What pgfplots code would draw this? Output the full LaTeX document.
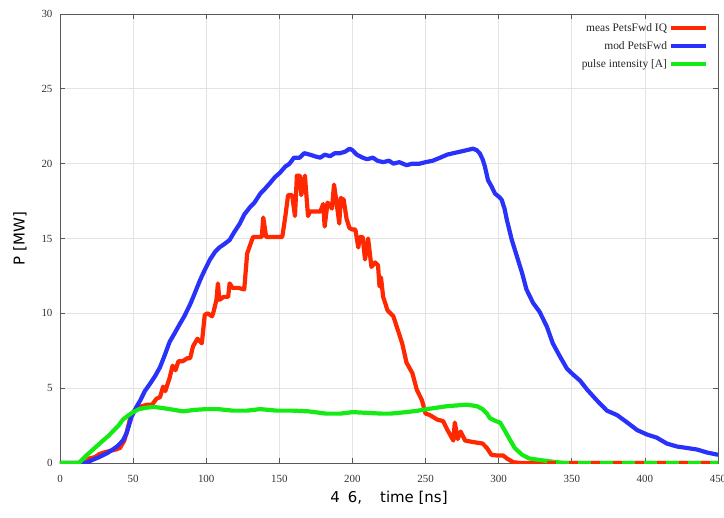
\documentclass[border=0pt]{standalone}
\usepackage{fontspec}
\setmainfont{Liberation Serif}
\newfontfamily\labelfont{DejaVu Sans}
\usepackage{pgfplots}
\pgfplotsset{compat=1.18}
\definecolor{cred}{RGB}{255,40,0}
\definecolor{cblue}{RGB}{40,50,250}
\definecolor{cgreen}{RGB}{20,235,20}
\begin{document}
\begin{tikzpicture}
\begin{axis}[
  scale only axis,
  width=658bp, height=449bp,
  xmin=0, xmax=450, ymin=0, ymax=30,
  xtick={0,50,...,450}, ytick={0,5,...,30},
  grid=major,
  grid style={gray!22, line width=0.7bp},
  axis line style={black!65, line width=0.9bp},
  tick style={black!65, line width=0.7bp},
  tick align=inside,
  major tick length=5bp,
  /pgf/number format/assume math mode=true,
  tick label style={font=\fontsize{11}{13}\selectfont, text=black!80},
  xticklabel style={yshift=-9bp},
  yticklabel style={xshift=-4bp},
  xlabel={4\hspace{8bp}6,\hspace{18bp}time [ns]},
  ylabel={P [MW]},
  label style={font=\labelfont\fontsize{15}{17}\selectfont},
  xlabel style={at={(axis description cs:0.5,-0.078)}, anchor=center},
  ylabel style={at={(axis description cs:-0.061,0.5)}, anchor=center},
  legend style={at={(axis description cs:0.99,0.988)}, anchor=north east,
    draw=none, fill=none, font=\fontsize{11.5}{13}\selectfont, text=black!85,
    row sep=4.5bp},
  legend cell align=right,
  legend plot pos=right,
  legend image code/.code={\draw[#1] (0bp,0bp) -- (35bp,0bp);},
  every axis plot/.append style={line width=4.2bp, line join=round},
]
\coordinate (O) at (rel axis cs:0,0);
\coordinate (T) at (rel axis cs:1,1);
\addplot[cred] coordinates {
(0,0)(10,0)(15,0)(18,0.1)(20,0.3)(24,0.4)(27,0.6)(30,0.7)(34,0.8)(38,0.9)(41,1.0)(44,1.5)(46,2.2)(48,3.0)(50,3.4)(53,3.7)(56,3.8)(60,3.9)(63,3.9)(66,4.3)(68.4,4.4)(70.5,5.1)(72,4.8)(75,5.7)(77,6.5)(79,6.2)(81,6.8)(84,6.8)(87,7.0)(89,7.0)(91,7.8)(94,8.3)(97,8.0)(99,9.9)(101,10.0)(104,9.8)(105,10.1)(107,10.9)(108,12.0)(109,10.9)(112,11.1)(115,11.1)(116,12.0)(118,11.7)(122,11.7)(126,11.6)(128,14.0)(132,15.1)(138,15.1)(139,16.4)(141,15.1)(152,15.1)(154,16.4)(156,17.9)(158.7,17.9)(160.7,16.5)(162,19.2)(164,19.2)(165,17.9)(167.5,19.2)(169.6,16.5)(171,16.8)(178,16.8)(180,17.3)(181,15.8)(183,17.4)(186,17.0)(187.4,18.6)(189,17.5)(191,16.0)(192,17.7)(194,17.6)(196,16.3)(198,15.7)(200,15.6)(202,15.6)(204,14.4)(205,15.1)(207,15.1)(208.6,13.6)(210.7,15.0)(213,13.1)(215.5,13.4)(217.5,13.2)(218.5,11.8)(219.5,12.4)(221,11.1)(224,10.2)(228,9.8)(231,8.9)(234,8.0)(237,6.7)(241,6.0)(244,4.9)(247.5,4.2)(250,3.3)(253,3.2)(258,2.9)(262,2.8)(265,2.2)(269,1.5)(270,2.7)(272,1.6)(274,2.1)(277,1.5)(282.5,1.4)(289,1.3)(292,1.0)(295,0.55)(299,0.5)(303,0.5)(305.7,0.3)(310,0.05)(315,0)(450,0)
};
\addlegendentry{meas PetsFwd IQ}
\addplot[cblue] coordinates {
(0,0)(18,0)(22,0.2)(27,0.4)(33,0.7)(39,1.1)(43,1.5)(45.6,2.0)(49,3.1)(52,3.7)(55,4.2)(58,4.8)(61.6,5.3)(65,5.8)(68.4,6.4)(72,7.3)(75,8.1)(78,8.6)(82,9.3)(85,9.8)(89,10.6)(92,11.3)(95.7,12.2)(99,12.9)(102.6,13.6)(106,14.1)(109,14.4)(112,14.6)(116,14.9)(119,15.4)(123,16.0)(126,16.6)(130,17.1)(133,17.4)(137,18.0)(140,18.3)(143.6,18.7)(147,19.1)(150.5,19.4)(154,19.8)(157,20.0)(160,20.4)(164,20.4)(167,20.7)(171,20.6)(174,20.5)(178,20.4)(181,20.6)(184.7,20.5)(188,20.7)(191.5,20.7)(195,20.8)(198,21.0)(200,20.9)(203,20.6)(207,20.4)(210,20.3)(214,20.4)(217,20.2)(221,20.1)(225,20.2)(228,20.0)(232,20.1)(237,19.9)(241,20.0)(246,20.0)(250,20.1)(255,20.2)(260,20.4)(264.7,20.6)(269,20.7)(273.6,20.8)(278,20.9)(282.5,21.0)(285,20.9)(287,20.7)(289,20.3)(290.6,19.8)(292.7,18.9)(295,18.5)(297.5,18.0)(300,17.8)(302,17.6)(304,17.0)(305.7,16.2)(309,14.9)(312.5,13.8)(316,12.7)(319,11.6)(323.5,10.7)(328,10.1)(333,9.1)(337,8.0)(342,7.1)(346.7,6.3)(351,5.9)(355.7,5.5)(360.5,4.9)(367,4.2)(374,3.5)(381,3.2)(388,2.7)(394.7,2.2)(401.5,1.9)(408,1.7)(415,1.3)(422,1.1)(429,1.0)(435.7,0.9)(442.5,0.7)(450,0.55)
};
\addlegendentry{mod PetsFwd}
\addplot[cgreen] coordinates {
(0,0)(12,0)(14,0.1)(18,0.5)(22.6,0.9)(26,1.2)(29.4,1.5)(33,1.8)(36,2.1)(40,2.5)(43,2.9)(47,3.2)(50,3.4)(54,3.6)(59.5,3.7)(64,3.75)(68,3.7)(75,3.6)(84,3.45)(92,3.55)(100,3.6)(108,3.6)(118,3.5)(128,3.5)(137,3.6)(148,3.5)(159,3.5)(170,3.45)(182,3.3)(192,3.3)(200,3.4)(210,3.35)(220,3.3)(226,3.3)(237,3.4)(245,3.5)(251,3.6)(258,3.7)(265,3.8)(272,3.85)(278,3.9)(285,3.8)(289,3.6)(292,3.3)(294,3.0)(298,2.8)(301,2.7)(304,2.2)(308,1.5)(311,1.0)(316,0.55)(321,0.3)(328,0.2)(340,0.05)(345,0)(450,0)
};
\addlegendentry{pulse intensity [A]}
\addplot[cred, dash pattern=on 9bp off 13bp, forget plot] coordinates {(318,0)(450,0)};
\end{axis}
\pgfresetboundingbox
\path[use as bounding box] ([shift={(-60bp,-55bp)}]O) rectangle ([shift={(6bp,14bp)}]T);
\end{tikzpicture}
\end{document}
